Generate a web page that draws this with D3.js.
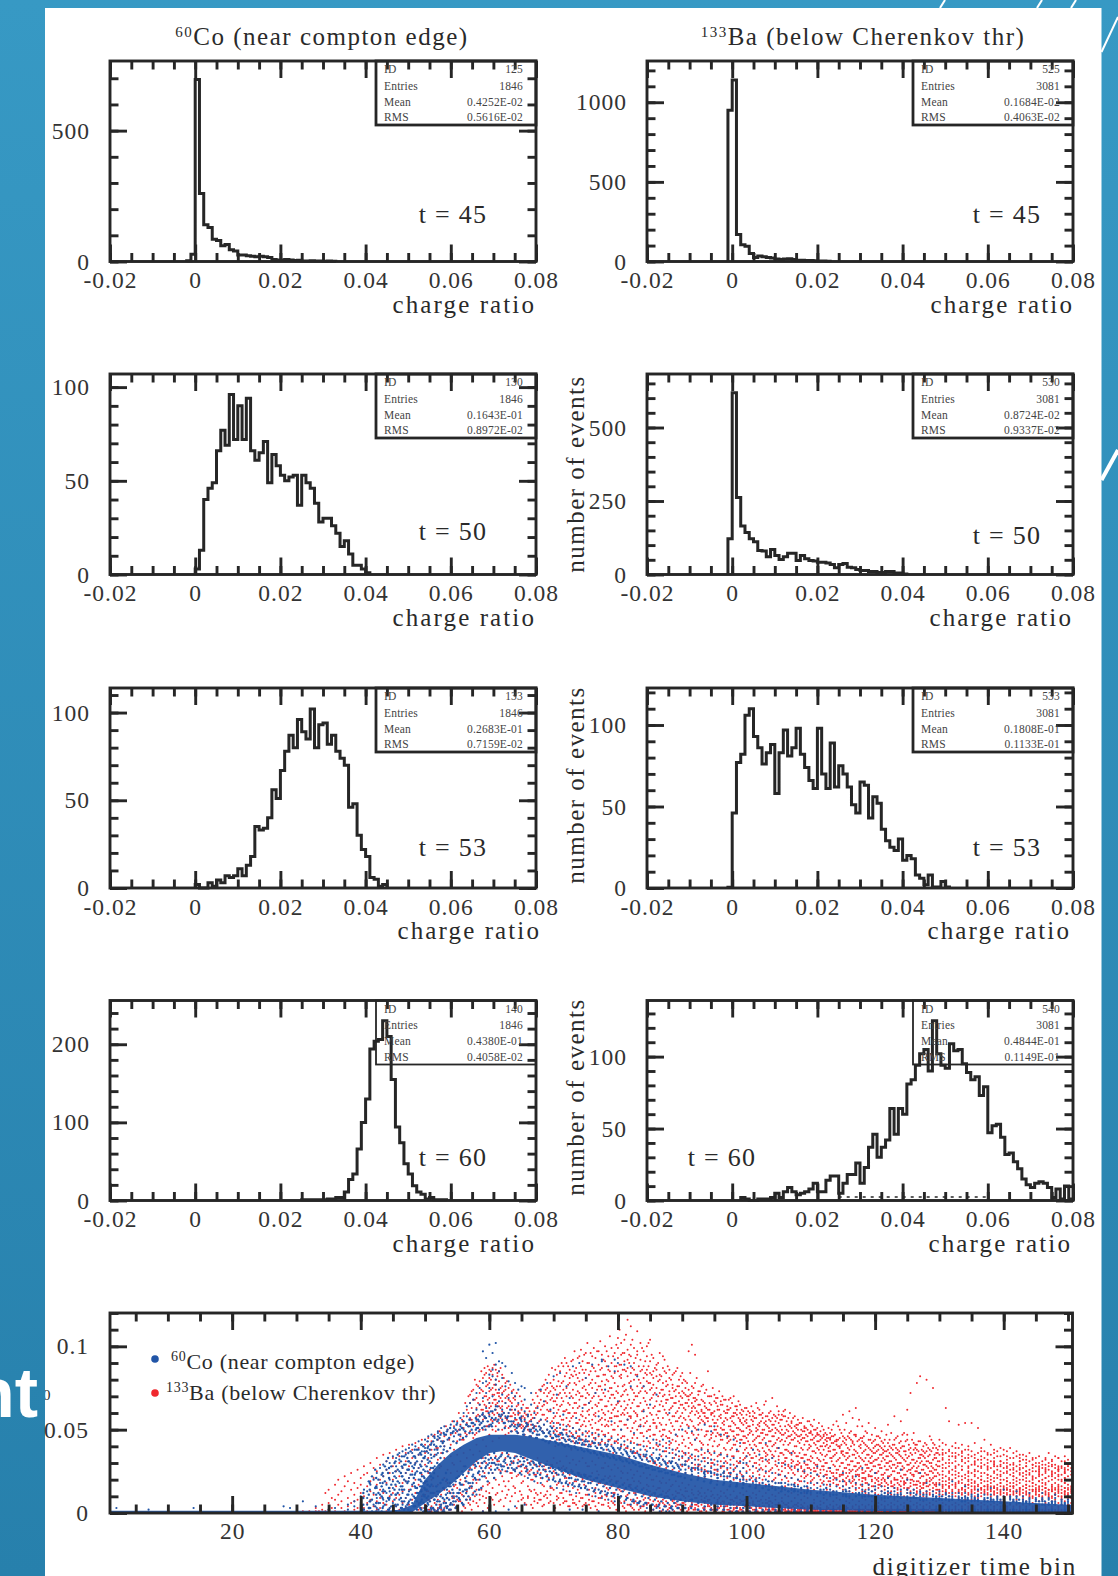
<!DOCTYPE html>
<html>
<head>
<meta charset="utf-8">
<script src="https://cdn.jsdelivr.net/npm/d3@7"></script>
<style>
html, body { margin: 0; padding: 0; background: #fff; }
svg { display: block; }
text { font-family: "Liberation Serif", serif; fill: #2a2a2a; }
</style>
</head>
<body>
<div id="chart"></div>
<script>
// histogram contents, one value per 0.001 bin, first bin starts at the matching *Start
var co45Start = -0.002
var co45 = [3,28,695,260,140,130,85,80,60,65,45,40,25,25,22,20,18,20,18,15,8,6,6,8,6,4,5,2,2,3,2,2,1,2,1]
var ba45Start = -0.001
var ba45 = [950,1140,170,105,95,50,25,35,30,25,22,15,12,15,18,12,8,8,6,6,4,3,3,2]
var co50Start = 0
var co50 = [3,13,40,46,49,66,77,69,96,72,90,72,94,66,61,65,71,49,64,58,53,50,52,53,37,53,49,46,38,28,30,30,26,22,15,18,11,5,5,3,1]
var ba50Start = -0.001
var ba50 = [122,618,262,165,143,122,111,82,80,60,85,65,51,60,72,72,48,65,54,48,46,42,42,39,34,23,34,37,25,23,17,14,14,10,10,7,7,10,10,5,5,2]
var co53Start = 0
var co53 = [2,0,0,3,1,4.5,3,7,6,7,11,7,13,18,35,33,34,40,56,51,67,78,87,80,96,89,85,102,80,93,94,82,87,78,74,70,46,48,30,22,18,6,5,1,2]
var ba53Start = -0.001
var ba53 = [0.5,46,77,82,106,110,93,86,76,83,88,58,83,97,81,86,98,82,74,66,61,98,70,61,89,62,75,70,62,51,46,65,63,43,56,52,36,29,25,23,30,17,20,18,8,6,2,8,0.6,0.6,4,0.6]
var co60Start = 0.025
var co60 = [1,1,1,1,1,1,2,2,4,4,11,27,34,66,100,130,194,204,206,230,210,155,94,74,47,34,19,11,8,2,4,1,1,1]
var ba60Start = 0.002
var ba60 = [2,1,0,0,1,1,1,2,5,2,6,9,6,4,5,6,8,12,6,6,14,17,17,5,12,18,18,26,12,23,37,46,30,37,42,64,46,64,60,81,84,94,102,105,90,125,102,94,92,109,104,105,95,89,84,86,73,79,47,52,53,44,32,33,27,22,15,11,9,12,13,12,9,2,8,1,10,1]

// stat box text
var statIds = ["125","525","130","530","133","533","140","540"]
var statEntries = ["1846","3081","1846","3081","1846","3081","1846","3081"]
var statMeans = ["0.4252E-02","0.1684E-02","0.1643E-01","0.8724E-02","0.2683E-01","0.1808E-01","0.4380E-01","0.4844E-01"]
var statRms = ["0.5616E-02","0.4063E-02","0.8972E-02","0.9337E-02","0.7159E-02","0.1133E-01","0.4058E-02","0.1149E-01"]
var timeLabels = ["t = 45","t = 45","t = 50","t = 50","t = 53","t = 53","t = 60","t = 60"]

// y axis of each panel
var yTops = [766,1259,107,682,114,122.7,256,139]
var yLabelTicks = [[0,500],[0,500,1000],[0,50,100],[0,250,500],[0,50,100],[0,50,100],[0,100,200],[0,50,100]]
var yMinorSteps = [100,100,10,50,10,10,20,10]
var xLabelTicks = [-0.02,0,0.02,0.04,0.06,0.08]

// scatter panel axes
var timeTicks = [20,40,60,80,100,120,140]
var ratioTicks = [0,0.05,0.1]

// dense blue band of the scatter panel, ratio in units of 0.001
var bandX  = [1,30,44,46,48,50,52,54,56,58,60,62,64,66,70,75,80,85,90,95,100,110,120,130,140,150,150.7]
var bandLo = [0.3,0.3,0.3,0.3,0.5,6,11,17,24,31,36,37,36,33,27,20,15,10,7,5,4,2,1.2,0.8,0.5,0.3,0.3]
var bandHi = [1.4,1.4,1.4,2,5,20,29,36,41,45,47,47,47,46,43,39,35,29,24,20,18,14,11,9,7,5,5]

// scatter points read by eye, each row is [time bin, ratio, ratio, ...], ratio in units of 0.001
var baRows = [
[31,1],[32,1],[33,3,1],[33.5,1],[34,5,2],[34.5,12,1],[35,14,6,2],[35.5,3,9],[36,17,8,1],[36.5,20,5,11],[37,13,3,7],[37.5,22,16,1],[38,19,9,4],[38.5,24,14,6],[39,18,11,2,7],[39.5,26,15,8,3],[40,21,12,5,17],[40.5,28,10,3,23],[41,24,16,6,1],[41.5,30,19,8,13],[42,27,11,4,21],[42.5,33,17,7,25,2],[43,29,14,9,3,20],[43.5,35,22,12,6],[44,31,18,5,26,1],[44.5,36,24,10,15,3],[45,33,20,7,28,12],[45.5,38,16,4,25,9],[46,34,22,11,30,2],[46.5,40,27,6,18,13],[47,36,19,9,31,3,24],[47.5,41,28,14,5,21],[48,38,25,8,33,1,16],[48.5,42,30,12,20,4],[49,39,27,6,35,17,2],[49.5,44,31,10,23,3,14],
[50,41,29,5,36,18,1,11],[50.5,45,33,8,24,2,13],[51,43,30,4,38,20,1,9],[51.5,47,35,12,26,2,6],[52,44,32,3,39,17,1,8,22],[52.5,48,36,5,28,11,2],[53,46,40,7,33,14,3,21],[53.5,50,37,9,26,4,18],[54,47,41,6,34,12,2,24],[54.5,52,38,10,29,5,16],[55,49,43,8,35,15,3,25,55],[55.5,53,39,7,31,12,20,46],[56,58,44,10,36,17,4,28,51],[56.5,62,47,13,33,8,22,54],[57,66,49,9,38,16,5,27,57,71],[57.5,74,52,12,35,20,7,29,60,45,68],[58,69,55,14,41,18,6,31,63,77,48,58],[58.5,79,58,11,37,23,8,28,65,50,72,53],[59,73,56,16,44,25,10,33,62,81,50,67,59,1],[59.5,84,61,13,40,21,9,30,70,52,76,64,57],
[60,78,66,18,47,27,12,35,59,86,53,73,69,63,81],[60.5,83,60,15,43,24,8,32,71,55,87,66,75,50],[61,80,68,20,49,29,11,34,62,86,56,74,52,77,65],[61.5,85,64,17,45,26,7,31,70,58,79,54,72],[62,76,61,22,50,28,13,36,67,83,55,72,59,64],[62.5,78,66,16,47,25,9,33,57,74,52,69],[63,71,60,19,51,27,14,35,64,55,75,48,68],[63.5,73,58,21,49,24,10,30,66,53,62],[64,68,56,15,50,26,12,34,62,53,70,59],[64.5,65,59,23,48,28,7,32,54,61],[65,62,57,18,51,25,11,29,53,8,67],[65.5,60,55,22,47,27,6,33,51,57],
[66,63,54,16,50,24,10,30,58,9,52],[66.5,59,53,20,46,26,5,31,56,13],[67,66,57,14,49,23,9,29,52,7,61],[67.5,70,60,18,47,25,11,33,54,6,64],[68,68,62,21,51,24,8,30,56,12,73],[68.5,72,59,16,48,26,5,28,65,10,53,77],[69,75,66,19,50,23,9,31,57,13,62,70],[69.5,78,61,15,46,27,7,29,68,11,54,73,43],
[70,80,71,22,52,25,6,33,63,14,57,48,75,67],[70.5,83,69,17,49,23,10,30,60,8,54,44,76,65],[71,76,85,20,47,26,5,31,58,12,72,51,64,42],[71.5,88,79,16,53,24,9,28,67,6,61,45,74,56],[72,84,75,21,48,27,7,34,62,13,70,50,57,41,90],[72.5,86,78,18,55,23,4,30,65,11,72,46,60,52,81],[73,92,82,15,51,25,8,32,69,6,74,43,58,47,63],[73.5,87,77,19,54,22,10,29,66,5,71,45,60,49,83],[74,94,84,17,50,24,7,31,72,12,64,42,56,46,79,68],[74.5,91,80,20,53,21,9,33,70,4,61,44,75,48,58,86],[75,96,86,16,52,23,6,30,74,11,65,41,57,46,81,69],[75.5,90,83,14,55,22,8,28,71,5,62,43,77,49,59,66],[76,94,88,19,51,24,10,31,75,7,63,42,56,47,80,69],[76.5,93,85,15,54,21,4,29,72,12,60,44,78,48,58,65],[77,89,82,18,50,23,9,33,70,6,66,41,76,46,61,55,97],[77.5,95,87,13,53,20,5,27,74,10,62,43,68,49,79,57],[78,100,91,17,56,22,8,30,77,11,64,42,70,47,83,59,52],[78.5,94,86,14,52,21,6,28,73,4,61,44,79,48,67,55],[79,99,90,16,57,20,10,26,75,7,65,41,71,46,82,60,53],[79.5,96,88,12,54,22,5,29,78,9,63,43,69,50,84,58],
[80,105,93,15,58,19,8,27,76,4,66,42,72,47,85,61,52,99],[80.5,102,89,13,55,21,6,25,81,10,64,40,70,45,83,59,50,95],[81,104,91,14,59,18,7,28,77,3,67,41,73,46,86,62,53,96],[81.5,116,98,11,56,20,5,24,82,9,65,39,71,44,87,60,51,92],[82,112,94,15,57,17,8,26,79,4,63,38,75,43,84,58,49,101],[82.5,99,90,12,54,19,6,23,80,2,68,36,72,42,86,61,47],[83,109,95,14,58,16,9,25,76,5,64,37,70,45,83,59,50,97],[83.5,102,92,13,53,18,3,22,78,7,66,35,73,41,85,56,48],[84,97,88,11,57,15,8,24,81,4,62,34,69,43,76,52,46],[84.5,94,86,14,55,17,5,21,79,6,65,33,72,40,83,58,49,100],[85,91,84,10,52,13,3,23,74,8,60,31,68,42,78,50,46,104],[85.5,93,85,12,56,16,7,20,77,2,63,30,71,39,81,54,47],[86,89,82,9,51,14,5,22,75,4,59,29,67,41,86,52,44],[86.5,96,80,11,54,15,3,19,72,6,61,28,65,38,83,49,43],[87,87,78,8,50,13,6,21,70,2,57,32,64,40,74,47,94],[87.5,84,76,12,53,10,4,18,68,7,60,27,66,37,79,46,42],[88,86,73,9,49,14,5,20,71,3,56,31,62,39,81,45,41],[88.5,83,75,7,52,11,2,17,69,8,58,26,64,36,77,44],[89,85,70,10,47,13,6,19,66,4,55,30,60,38,74,43,35],[89.5,80,72,8,50,12,3,16,63,5,57,25,67,34,76,41],
[90,84,69,6,46,11,2,18,65,4,54,28,60,37,73,42,33,78],[90.5,79,71,9,49,13,5,15,62,7,56,24,66,35,75,40,31],[91,74,68,7,45,10,3,17,64,2,52,27,58,36,70,39,32,97],[91.5,76,66,8,48,12,4,14,61,6,55,23,63,33,72,41,30,101],[92,78,63,5,44,9,2,16,59,3,51,26,67,34,69,38,29,95],[92.5,73,65,7,47,11,6,13,60,4,53,22,57,32,71,37,28],[93,76,61,8,42,10,1,15,56,5,50,25,62,35,68,39,27],[93.5,72,64,6,46,9,3,12,58,2,54,21,60,31,66,36,26],[94,85,62,4,41,8,5,14,55,7,49,24,57,33,70,38,30],[94.5,70,60,6,45,10,2,13,52,3,47,20,59,30,65,35,28],[95,71,58,5,43,9,1,15,54,4,50,23,61,32,67,37,26],[95.5,69,62,7,40,8,3,11,56,2,48,19,52,29,64,34,25],[96,67,59,4,44,10,5,13,51,6,46,22,57,31,65,36,27],[96.5,68,55,6,39,7,1,12,50,3,47,18,53,28,61,33,24],[97,64,60,5,42,9,2,14,48,4,45,21,56,30,62,35,26],[97.5,69,57,3,38,8,6,11,52,1,44,17,50,27,63,32,23],[98,70,54,5,41,7,2,13,49,3,46,20,58,29,60,34,25],[98.5,62,59,4,37,9,1,10,47,6,43,16,51,28,64,31,22],[99,65,55,6,40,8,3,12,50,2,44,19,56,30,60,33,24],[99.5,61,53,3,36,7,5,11,46,1,42,18,49,27,57,32,21],
[100,63,56,5,39,8,2,13,51,4,45,20,54,29,59,34,25],[100.5,60,52,4,35,6,1,10,48,3,41,17,50,26,58,31,22],[101,58,55,6,38,7,2,12,47,5,43,19,53,28,61,33,24],[101.5,66,51,3,34,9,1,11,45,2,40,16,49,27,57,30,21],[102,62,54,5,37,7,4,13,46,3,42,18,52,29,59,32,23],[102.5,57,50,4,33,6,2,10,44,1,39,15,48,26,60,31,20],[103,67,55,6,36,8,3,12,47,2,41,17,53,28,58,34,24],[103.5,60,49,3,32,7,1,9,43,5,38,14,51,25,56,30,22],[104,69,53,4,35,6,2,11,46,3,40,16,50,27,57,33,19],[104.5,58,51,5,31,8,1,10,42,2,37,15,48,24,55,29,21],[105,61,54,3,34,6,2,12,45,4,39,18,49,26,59,32,23],[105.5,59,50,4,30,7,1,9,44,2,36,14,47,25,56,28,20],[106,62,52,2,33,5,3,11,43,1,38,16,48,27,58,31,22],[106.5,57,49,4,29,6,1,10,41,2,37,13,46,24,53,28,19],[107,55,51,3,32,7,2,12,44,1,35,15,47,26,54,30,21],[107.5,58,48,2,28,5,1,9,40,3,36,13,45,23,52,27,18],[108,56,50,4,31,6,2,11,43,1,34,17,46,25,53,29,20],[108.5,54,47,3,27,5,1,8,39,2,33,14,44,22,50,28,19],[109,52,49,2,30,6,1,10,41,3,35,12,45,24,51,26,21],[109.5,55,46,3,29,4,1,9,38,2,32,15,43,23,50,27,18],
[110,53,48,2,31,5,1,11,40,1,34,13,44,22,49,26,19],[110.5,56,45,3,27,6,2,8,37,1,30,14,42,21,50,25,17],[111,51,47,2,29,4,1,10,39,3,33,12,43,23,48,27,18],[111.5,49,44,3,26,5,1,7,36,2,31,13,40,20,46,24,16],[112,50,46,2,28,6,1,9,38,1,32,11,42,22,47,26,19],[112.5,47,43,3,25,4,2,8,35,1,30,14,41,21,45,23,17],[113,48,45,2,27,5,1,10,37,1,33,12,40,19,44,25,16],[113.5,53,42,3,24,4,1,7,34,2,29,13,38,20,46,22,18],[114,55,44,2,26,5,1,9,36,1,31,11,41,21,43,24,17],[114.5,50,40,3,23,4,2,8,33,1,28,12,39,19,45,22,15],[115,59,43,2,25,5,1,10,35,1,30,14,37,20,46,23,16],[115.5,54,41,3,24,4,1,7,32,2,27,11,36,18,44,21,17],[116,61,45,2,26,6,1,9,34,1,29,13,38,20,48,24,15],[116.5,57,42,3,22,4,1,8,31,1,26,12,35,19,43,21,16],[117,63,46,2,25,5,2,10,33,1,28,14,37,18,47,23,17],[117.5,56,40,3,23,4,1,7,30,1,27,11,34,20,44,22,15],[118,52,43,2,24,5,1,9,32,2,26,13,36,19,45,21,16],[118.5,49,41,3,21,4,1,8,29,1,25,12,33,18,38,20,14],[119,54,39,2,23,5,1,10,31,1,27,11,35,17,44,22,15],[119.5,47,42,3,22,4,1,7,30,2,26,13,34,19,37,20,16],
[120,51,44,2,24,5,1,9,32,1,28,12,36,18,40,21,14],[120.5,46,38,3,21,4,1,6,29,1,25,11,33,17,41,19,15],[121,49,43,2,23,5,2,8,31,1,27,13,35,18,39,20,16],[121.5,44,40,3,20,4,1,7,28,1,24,10,32,16,37,19,14],[122,53,42,2,22,5,1,9,30,1,26,12,34,17,38,21,15],[122.5,48,39,3,19,4,1,6,27,2,23,11,31,16,35,18,13],[123,58,41,2,21,5,1,8,29,1,25,10,33,17,44,20,15],[123.5,46,38,3,20,4,1,7,28,1,24,12,30,15,36,18,14],[124,55,43,2,22,5,1,9,30,1,26,11,34,16,39,19,13],[124.5,48,40,3,19,4,1,6,27,1,23,10,32,17,37,18,15],[125,62,44,2,21,5,1,8,29,2,25,12,33,15,47,20,14],[125.5,72,39,3,20,4,1,7,26,1,24,11,30,16,36,18,13],[126,48,42,2,22,5,1,9,28,1,23,10,32,17,38,19,14],[126.5,78,38,3,19,4,1,6,27,1,25,12,31,15,41,17,13],[127,82,43,2,21,5,1,8,30,1,24,11,33,16,35,18,14],[127.5,40,37,3,18,4,1,7,26,2,22,10,29,15,34,17,12],[128,80,41,2,20,5,1,9,28,1,23,12,31,16,37,19,13],[128.5,46,38,3,19,4,1,6,25,1,21,11,30,14,35,17,12],[129,75,42,2,21,5,1,8,27,1,24,10,32,15,39,18,13],[129.5,39,36,3,18,4,1,7,26,1,22,12,29,16,33,17,14],
[130,44,40,2,20,5,1,8,28,1,23,10,31,14,35,18,12],[130.5,38,35,3,17,4,2,6,25,1,21,11,29,15,33,16,13],[131,63,41,2,19,5,1,9,27,1,22,12,30,14,36,17,13],[131.5,55,37,3,18,4,1,7,24,1,20,10,28,15,32,16,12],[132,40,36,2,20,5,1,8,26,1,23,11,30,13,34,17,14],[132.5,42,34,3,17,4,1,6,25,1,21,10,27,15,31,16,12],[133,53,39,2,19,5,1,9,24,1,22,12,29,13,35,18,14],[133.5,41,36,3,18,4,1,7,26,2,20,11,28,14,32,15,12],[134,54,38,2,17,5,1,8,23,1,21,10,30,13,33,16,14],[134.5,40,35,3,19,4,1,6,25,1,22,11,27,15,31,17,12],[135,54,37,2,18,5,1,8,24,1,20,12,29,13,34,16,14],[135.5,42,33,3,16,4,1,7,23,1,19,10,26,14,30,15,12],[136,51,36,2,17,5,1,9,25,1,21,11,28,13,32,16,14],[136.5,39,34,3,18,4,1,6,22,1,20,10,27,15,30,15,12],[137,44,37,2,16,5,1,8,24,1,19,12,29,13,33,16,14],[137.5,36,32,3,17,4,1,7,23,2,21,11,26,14,28,15,12],[138,41,35,2,18,5,1,8,22,1,20,10,27,13,31,16,14],[138.5,38,33,3,15,4,1,6,24,1,19,11,29,12,30,16,13],[139,37,34,2,17,5,1,9,23,1,21,10,26,14,28,15,12],[139.5,39,31,3,16,4,1,7,22,1,18,12,25,13,29,14,11],
[140,38,35,2,15,5,1,8,24,1,20,10,27,12,30,16,14],[140.5,37,32,3,17,4,1,6,21,1,19,11,25,14,28,15,12],[141,39,33,2,16,5,1,9,23,1,18,10,26,13,29,14,11],[141.5,36,30,3,15,4,1,7,22,2,20,12,27,13,24,16,11],[142,37,34,2,17,5,1,8,21,1,19,10,25,12,28,14,13],[142.5,33,31,3,14,4,1,6,23,1,18,11,26,13,29,15,12],[143,35,32,2,16,5,1,8,22,1,20,9,24,12,27,14,10],[143.5,34,30,3,15,4,1,7,21,1,17,11,25,13,28,15,12],[144,36,31,2,14,5,1,9,23,1,19,10,26,12,24,16,11],[144.5,32,29,3,16,4,1,6,20,1,18,9,22,13,27,14,10],[145,33,30,2,15,5,1,8,21,1,17,11,25,12,28,14,13],[145.5,34,28,3,14,4,1,7,22,1,19,10,24,13,26,15,11],[146,31,29,2,16,5,1,8,20,1,18,9,23,12,27,14,10],[146.5,33,27,3,15,4,1,6,21,1,17,11,25,13,24,15,12],[147,36,30,2,14,5,1,9,22,1,19,10,26,12,28,14,11],[147.5,32,28,3,13,4,1,7,20,1,16,9,23,13,25,15,10],[148,34,29,2,15,5,1,8,21,1,18,11,24,12,27,14,11],[148.5,33,27,3,14,4,1,6,22,1,17,10,25,13,26,15,12],[149,31,28,2,16,5,1,8,20,1,19,9,23,12,27,14,10],[149.5,34,26,3,13,4,1,7,21,1,18,11,24,13,25,15,12],[150,32,29,2,15,5,1,9,22,1,17,10,26,12,28,14,11],[150.5,30,27,3,14,4,1,6,20,1,16,9,23,13,25,15,12]
]
// second pass over the red cloud, between the columns above
var baRows2 = [
[50.25,4,37,13],[50.75,26,2,41,7],[51.25,16,46,3],[51.75,39,10,1],[52.25,49,5,27],[52.75,15,43,1],[53.25,19,52,6],[53.75,44,2,13],[54.25,55,9,30],[54.75,17,48,3],[55.25,60,7,22,50],[55.75,11,56,1,44],
[56.25,66,19,48,3],[56.75,60,6,52,25,70],[57.25,73,15,56,2,63],[57.75,68,27,47,10,80],[58.25,76,4,59,20,66,51],[58.75,85,14,62,30,74],[59.25,70,6,83,24,57,65,87],[59.75,77,17,61,3,68,88,52],[60.25,74,28,64,9,85,56,80],[60.75,68,21,89,5,77,59,71],[61.25,82,12,60,31,72,66,84],[61.75,75,25,57,8,69,87,63],[62.25,81,19,73,4,60,54],[62.75,70,29,63,11,79,56],[63.25,77,7,58,24,67,52],[63.75,69,16,54,31,60,74],[64.25,64,3,72,22,56],[64.75,70,13,52,28,60],[65.25,58,9,65,19,52],[65.75,63,27,54,5,59],[66.25,61,14,49,25,55],[66.75,68,3,57,20,51],[67.25,63,23,59,12,72,52],[67.75,74,8,55,28,66],[68.25,59,17,76,4,64,49],[68.75,67,26,56,11,74,80],[69.25,83,6,61,21,72,48],[69.75,69,15,55,29,76,87,45],
[70.25,74,3,58,24,67,50,86,40],[70.75,62,18,79,9,71,47,54,88],[71.25,56,12,90,27,65,45,78,69],[71.75,82,7,61,21,93,50,72,40],[72.25,66,16,53,4,77,44,88,60],[72.75,91,26,70,11,48,57,83,38],[73.25,78,6,97,19,60,42,66,85],[73.75,54,14,73,3,93,46,81,63],[74.25,88,23,59,9,70,39,52,98],[74.75,76,5,65,17,84,43,55,95],[75.25,61,28,102,11,72,48,90,38],[75.75,85,3,53,20,78,41,96,67],[76.25,70,13,59,7,99,45,87,36],[76.75,97,25,64,2,82,50,74,39],[77.25,56,9,86,18,68,42,103,76],[77.75,72,5,60,27,92,47,83,35],[78.25,64,15,97,10,80,38,53,88],[78.75,106,3,69,22,57,44,85,75],[79.25,81,12,62,6,94,36,50,71],[79.75,73,19,101,2,58,43,88,65],
[80.25,89,7,67,14,82,34,55,110],[80.75,60,24,96,4,76,46,71,86],[81.25,107,10,63,1,85,39,53,74],[81.75,78,17,90,5,58,33,68,95],[82.25,66,3,104,21,74,45,51,87],[82.75,93,12,60,7,83,36,70,55],[83.25,72,19,88,2,52,41,64,80],[83.75,99,4,75,14,61,32,48,86],[84.25,84,9,67,1,91,38,54,73],[84.75,63,16,78,6,102,43,50,88],[85.25,75,2,59,20,83,35,69,95],[85.75,87,11,64,4,72,31,47,54],[86.25,70,7,90,15,57,40,79,61],[86.75,82,1,53,18,67,34,46,74],[87.25,62,10,85,5,71,37,50,92],[87.75,77,13,59,2,88,30,45,68],[88.25,69,4,80,16,54,42,63,48],[88.75,84,8,58,1,73,33,50,66],[89.25,76,12,61,5,87,39,46,55],[89.75,65,2,82,14,70,29,52,58],
[90.25,72,6,57,10,80,36,44,63],[90.75,78,1,66,13,53,31,48,70],[91.25,60,8,84,4,71,34,42,56],[91.75,69,11,52,2,75,27,47,64],[92.25,81,5,61,9,68,38,45,50],[92.75,58,1,73,12,65,29,54,43],[93.25,67,7,55,3,77,33,41,60],[93.75,74,10,49,1,63,25,47,57],[94.25,62,4,70,8,52,36,44,66],[94.75,56,2,75,11,60,30,40,48],[95.25,66,6,50,1,69,26,46,54],[95.75,73,9,58,3,47,35,41,62],[96.25,54,1,65,7,70,28,44,50],[96.75,60,4,48,10,57,31,38,68],[97.25,68,2,52,6,62,24,43,46],[97.75,58,8,66,1,49,34,39,55],[98.25,64,3,45,9,53,27,41,60],[98.75,51,1,67,5,57,30,37,47],[99.25,59,7,49,2,62,23,44,54],[99.75,63,4,55,8,46,33,38,42],
[100.25,52,1,61,6,47,28,36,43],[100.75,64,3,49,9,56,21,39,33],[101.25,57,2,44,5,60,30,41,36],[101.75,50,7,63,1,46,25,53,38],[102.25,59,3,48,8,42,33,55,27],[102.75,65,1,54,4,45,22,37,50],[103.25,47,6,58,2,40,31,52,35],[103.75,61,1,43,7,55,26,37,49],[104.25,53,3,46,2,59,20,41,34],[104.75,64,5,39,1,50,28,57,44],[105.25,48,1,56,4,43,23,36,52],[105.75,58,2,41,6,61,30,35,47],[106.25,45,5,55,1,38,21,50,33],[106.75,60,1,42,3,52,27,46,36],[107.25,49,4,57,2,37,24,44,31],[107.75,53,1,40,5,47,29,34,51],[108.25,46,2,54,1,36,19,42,30],[108.75,57,4,38,3,49,25,33,45],[109.25,43,1,51,2,35,22,47,29],[109.75,48,3,55,1,39,27,32,41],
[110.25,52,1,37,4,44,20,33,47],[110.75,41,2,50,1,36,25,29,46],[111.25,47,3,54,1,38,22,32,43],[111.75,52,1,35,2,45,18,28,40],[112.25,40,2,48,1,34,23,30,44],[112.75,45,3,51,1,37,19,27,39],[113.25,50,1,33,2,42,24,31,46],[113.75,38,2,47,1,35,21,28,43],[114.25,44,1,52,3,32,17,26,40],[114.75,48,2,36,1,41,23,30,37],[115.25,42,1,50,2,34,19,27,45],[115.75,46,3,33,1,39,22,29,36],[116.25,40,1,44,2,31,18,25,49],[116.75,47,2,35,1,38,20,28,41],[117.25,43,1,52,2,30,23,26,36],[117.75,39,2,45,1,33,17,28,41],[118.25,46,1,31,2,37,21,24,42],[118.75,40,1,48,2,29,18,27,35],[119.25,44,2,33,1,38,22,25,30],[119.75,36,1,43,2,28,16,31,39],
[120.25,41,1,46,2,32,20,24,37],[120.75,45,2,35,1,29,17,27,40],[121.25,38,1,42,2,33,21,23,36],[121.75,47,1,30,2,37,18,26,34],[122.25,36,2,44,1,28,22,31,40],[122.75,41,1,34,2,38,16,25,29],[123.25,45,1,32,2,27,20,36,39],[123.75,35,2,42,1,30,17,24,37],[124.25,40,1,47,2,28,21,33,26],[124.75,37,1,31,2,43,18,23,35],[125.25,41,2,29,1,34,15,26,38],[125.75,35,1,44,2,27,20,32,23],[126.25,39,1,30,2,36,17,25,41],[126.75,33,2,43,1,28,19,24,37],[127.25,38,1,31,2,26,15,35,22],[127.75,42,1,29,2,33,18,24,36],[128.25,34,2,39,1,27,16,31,23],[128.75,37,1,30,2,44,20,25,28],[129.25,41,1,33,2,26,17,35,22],[129.75,31,2,38,1,28,14,24,36],
[130.5,36,1,42,2,27,19,32,23],[131.5,38,1,30,2,25,16,34,21],[132.5,33,2,39,1,28,18,23,36],[133.5,31,1,37,2,26,15,34,22],[134.5,38,1,28,2,33,17,24,20],[135.5,35,2,29,1,25,18,31,22],[136.5,32,1,37,2,24,14,28,20],[137.5,35,1,27,2,30,16,23,19],[138.5,31,2,36,1,25,15,28,21],[139.5,34,1,28,2,23,18,31,20],[140.5,30,1,34,2,24,14,27,19],[141.5,33,2,26,1,29,16,22,18],[142.5,31,1,35,2,24,15,27,20],[143.5,28,1,32,2,23,17,25,19],[144.5,33,2,25,1,29,14,21,18],[145.5,30,1,27,2,23,16,25,19],[146.5,32,1,26,2,29,15,21,18],[147.5,29,2,24,1,31,14,22,17],[148.5,33,1,26,2,23,16,28,20],[149.5,27,1,31,2,24,15,21,18]
]
var coRows = [
[2,3],[7,2],[14,3],[28,4],[29,3],[31,7],[33,4],[35,2],[36,3],[38,5,2],[39,4,7],[40,10,6,3],[40.5,14,2],[41,9,5,13],[41.5,17,7,3],[42,12,20,5],[42.5,24,9,15,3],[43,18,11,27,6],[43.5,22,14,29,4,8],[44,26,17,12,31,7],[44.5,30,20,9,13,3],[45,24,34,15,6,19],[45.5,28,21,33,11,4],[46,32,18,25,8,14,36],[46.5,27,37,22,12,5,16],[47,35,29,19,9,24,38,4],[47.5,31,39,26,13,7,21],[48,36,28,17,41,6,23,11],[48.5,33,40,24,15,9,30],[49,43,35,27,12,20,5,38],[49.5,41,31,22,16,8,37],[50,44,34,25,1,14,39,19],[50.5,40,30,46,5,10,36],[51,42,33,47,2,17],[51.5,45,28,38,1,8],[52,46,36,48,2,11,49],[52.5,43,51,3,5],[53,47,40,52,1,8],[53.5,50,44,4,12],[54,48,53,2,16,6],[54.5,51,46,55,9],[55,49,54,3,12,21],[55.5,52,47,57,17],[56,50,55,60,5,10],[56.5,53,58,64,14],[57,52,56,66,18,8],[57.5,54,60,68,23],[58,56,51,62,72,11],[58.5,58,53,65,75,20],[59,55,60,69,78,97,25,1],[59.5,57,63,72,79,93,28],[60,58,52,66,75,83,101,30,2],[60.5,54,61,70,82,96,86,24],[61,57,64,77,80,102,89,29,1],[61.5,59,67,74,85,91,33],[62,56,62,71,81,90,26],[62.5,58,66,76,88,30],[63,55,60,69,79,2],[63.5,53,64,72,84,27],[64,57,62,70,25,4,78],[64.5,52,60,66,74],[65,55,58,63,23,76],[65.5,51,56,61,5,68,75],[66,53,59,21,58],[66.5,50,55,65,72],[67,52,57,19,60],[67.5,49,54,63,24],[68,51,56,74,18],[68.5,48,53,67],[69,50,55,22,78],[69.5,47,52,62,16],
[70,49,54,60,21,82],[70.5,46,51,71,15],[71,48,53,84,20],[71.5,45,50,59,14],[72,47,52,76,19],[72.5,44,49,69,2,13],[73,46,51,88,18],[73.5,43,48,57,12],[74,45,50,90,17],[74.5,42,47,63,2],[75,44,49,81,16],[75.5,41,46,66,11],[76,43,48,89,15],[76.5,40,45,72,10],[77,42,47,58,14,1],[77.5,39,44,91,9,92],[78,41,46,74,13],[78.5,38,43,88,8],[79,40,45,55,12],[79.5,37,42,85,92,7],[80,39,44,67,11,90],[80.5,36,41,50,10],[81,38,43,89,6],[81.5,35,40,56,9],[82,37,42,76,88,5],[82.5,34,39,48,7],[83,36,41,82,6],[83.5,33,38,52,4],[84,35,40,76,5,61],[84.5,32,37,45,3],[85,34,39,65,4],[85.5,31,36,44,2],[86,33,38,42,3,71],[86.5,30,35,41,1],[87,32,37,44,2],[87.5,29,34,39,1],[88,31,36,43,1,60],[88.5,28,33,38,2],[89,30,35,47],[89.5,27,32,37],
[90,29,34,50,1],[90.5,26,31,36],[91,28,33,51],[91.5,25,30,35,49],[92,27,32,44],[92.5,24,29,34,50],[93,26,31,38],[93.5,23,28,33,53],[94,25,30,37],[94.5,22,27,32,49],[95,24,29,52,36],[95.5,21,26,31],[96,23,28,35,47],[96.5,20,25,30],[97,22,27,34,46],[97.5,19,24,29],[98,21,26,33,44],[98.5,18,23,28,38],[99,20,25,31,42],[99.5,17,22,27,30],
[100,19,24,30,34],[101,18,22,28,38],[102,17,21,26,35],[103,16,20,25,32,42],[104,15,19,24,33],[105,15,18,23,30,39],[106,14,18,22,29],[107,14,17,21,28,36],[108,13,16,20,26],[109,13,16,19,25,31],[110,12,15,18,24],[111,12,15,18,23,28],[112,11,14,17,22],[113,11,14,17,21,27],[114,11,13,16,20],[115,11,13,16,19,24],[116,10,13,15,19],[117,10,12,15,18,22],[118,10,12,14,17,27],[119,10,12,14,17],[120,10,11,14,16,24],[121,9,11,13,16],[122,9,11,13,15,21],[123,9,11,13,15],[124,9,11,12,14,26],[125,9,10,12,14,20],[126,9,10,12,14],[127,8,10,12,13,24],[128,8,10,11,13,18],[129,8,10,11,13],[130,8,9,11,13,17],[131,8,9,11,12],[132,8,9,10,12,19],[133,8,9,10,12],[134,7,9,10,12,16],[135,7,9,10,11],[136,7,8,10,11,14],[137,7,8,9,11],[138,7,8,9,11,15],[139,7,8,9,10],[140,6,8,9,10,14],[141,6,8,9,10],[142,6,7,9,10,13],[143,6,7,8,10],[144,6,7,8,9,12],[145,5,7,8,9],[146,5,7,8,9,12],[147,5,6,8,9],[148,5,6,7,9,11],[149,5,6,7,8],[150,4,6,7,8,10]
]
// fringe of the blue band, between the columns above
var coRows2 = [
[41.25,3,11,19],[41.75,8,22,1],[42.25,15,4,26],[42.75,6,20,12,2],[43.25,23,1,10,16],[43.75,28,5,13,19],[44.25,9,24,2,33],[44.75,17,4,28,11],[45.25,30,8,1,22,14],[45.75,12,35,5,19,26],[46.25,3,24,16,31,9],[46.75,29,7,20,2,34,14],[47.25,18,33,5,11,26],[47.75,37,1,14,23,8,30],[48.25,10,27,4,34,18,21],[48.75,2,15,38,7,25,31,12],[49.25,29,6,20,36,3,16,24],[49.75,40,11,26,1,33,18,6,22],[50.25,4,28,14,37,2,9,19],[50.75,38,24,1,7,31,16],[51.25,3,27,43,12,21],[51.75,5,35,1,10,40,16],[52.25,7,29,45,3,13],[52.75,1,42,9,36,20],[53.25,11,47,4,24,6],[53.75,2,45,16,8],[54.25,14,48,5,10],[54.75,19,50,7,3],[55.25,12,47,22,9],[55.75,17,51,25,6],[56.25,21,49,14,28],[56.75,24,52,10,18],[57.25,26,50,16,54],[57.75,21,53,29,13],[58.25,30,51,24,56],[58.75,27,54,33,15],[59.25,31,52,22,58],[59.75,35,55,29,19],[60.25,33,53,26,61],[60.75,36,56,21,30],[61.25,32,55,27,64],[61.75,34,58,24,29],[62.25,31,54,28,60],[62.75,36,57,25],[63.25,33,52,29,62],[63.75,30,55,26],
[64.25,34,51,27,49],[64.75,31,53,24,57],[65.25,33,49,29,47],[65.75,28,52,25,54],[66.25,30,50,23,46],[66.75,27,48,31,53],[67.25,29,45,22,50],[67.75,26,47,30,52],[68.25,28,44,21,49],[68.75,25,46,29,43],[69.25,27,48,20,42],[69.75,24,45,28,51],[70.25,26,43,19,47],[70.75,23,46,27,41],[71.25,25,42,18,48],[71.75,22,44,26,40],[72.25,24,41,17,46],[72.75,21,43,25,39],[73.25,23,40,16,45],[73.75,20,42,24,38],[74.25,22,39,15,44],[74.75,19,41,23,37],[75.25,21,38,14,43],[75.75,18,40,22,36],[76.25,20,37,13,42],[76.75,17,39,21,35],[77.25,19,36,12,41],[77.75,16,38,20,34],[78.25,18,35,11,40],[78.75,15,37,19,33],[79.25,17,34,10,39],[79.75,14,36,18,32],
[80.25,16,33,9,38],[80.75,13,35,17,31],[81.25,15,32,8,37],[81.75,12,34,16,30],[82.25,14,31,7,36],[82.75,11,33,15,29],[83.25,13,30,6,35],[83.75,10,32,14,28],[84.25,12,29,6,34],[84.75,9,31,13,27],[85.25,11,28,5,33],[85.75,8,30,12,26],[86.25,10,27,4,32],[86.75,7,29,11,25],[87.25,9,26,4,31],[87.75,6,28,10,24],[88.25,8,25,3,30],[88.75,6,27,9,23],[89.25,7,24,3,29],[89.75,5,26,8,22],
[90.5,7,24,3,29],[91.5,5,23,8,27],[92.5,6,21,2,26],[93.5,4,22,7,25],[94.5,5,19,2,24],[95.5,4,21,6,23],[96.5,4,18,2,22],[97.5,3,19,5,24],[98.5,3,17,1,21],[99.5,3,18,5,20],[100.5,3,16,1,20],[101.5,2,17,4,19],[102.5,2,15,1,18],[103.5,2,16,4,17],[104.5,2,14,1,18],[105.5,2,15,3,16],[106.5,1,13,3,17],[107.5,1,14,2,16],[108.5,1,12,3,15],[109.5,1,13,2,14],
[111.5,1,12,2,14],[113.5,1,11,2,13],[115.5,1,10,2,13],[117.5,1,11,2,12],[119.5,1,10,2,13],[121.5,1,9,2,12],[123.5,1,10,2,11],[125.5,1,9,2,12],[127.5,1,8,2,11],[129.5,1,9,2,10],[131.5,1,8,2,10],[133.5,1,7,2,9],[135.5,1,8,2,9],[137.5,1,7,2,9],[139.5,1,6,2,8],[141.5,1,7,2,8],[143.5,1,6,2,7],[145.5,1,5,2,7],[147.5,1,6,2,7],[149.5,1,5,2,6]
]
// thick part of the rising edge and the band rim
var coRows3 = [
[40.4,5,12,2,9],[41.4,14,3,7,18],[42.4,21,6,11,1,16],[43.4,9,24,3,18,13],[44.4,27,2,15,8,21],[45.4,11,31,5,17,25,1],[46.4,34,14,7,22,28,3],[47.4,6,19,36,11,26,31,2],[48.4,16,38,4,23,29,9,34],[49.4,41,13,2,28,19,35,7,24],[49.9,10,33,21,3,37,15],[50.4,1,25,39,6,32,43,17],[50.9,3,35,12,27,41,22],[51.4,2,8,41,34,24,46],[51.9,44,1,13,38,7,30],[52.4,4,47,10,33,40,18],[52.9,6,43,15,38,2,48],[53.4,9,49,3,37,14,20],[53.9,51,12,39,5,18],[54.4,7,49,17,43,12],[54.9,53,10,21,42,4],[55.4,14,50,18,44,8],[55.9,55,23,13,45,5],[56.4,19,53,12,46,8],[56.9,26,56,15,48],[57.4,22,54,11,48,18],[57.9,28,57,20,50],[58.4,25,55,14,49],[58.9,30,59,22,51],[59.4,27,57,33,50],[59.9,32,60,24,52],
[60.4,30,57,52],[60.9,33,62,26],[61.4,29,56,50],[61.9,35,59,28],[62.4,32,54,51],[62.9,27,58,34],[63.4,31,55,49],[63.9,26,52,33],[64.4,30,53,48],[64.9,28,56,34],[65.4,31,50,47],[65.9,26,53,32],[66.4,29,49,46],[66.9,24,51,30],[67.4,28,47,45],[67.9,23,50,29],[68.4,26,48,44],[68.9,22,46,29],[69.4,25,49,43],[69.9,20,45,27],[70.4,24,46,42],[70.9,19,44,26],[71.4,23,47,41],[71.9,18,43,25],[72.4,21,44,40],[72.9,17,46,24],[73.4,20,42,39],[73.9,16,44,23],[74.4,19,41,38],[74.9,15,43,22],[75.4,18,40,37],[76.4,14,42,36],[77.4,13,39,35],[78.4,12,41,34],[79.4,11,38,33],[80.4,10,39,32],[81.4,9,36,31],[82.4,8,37,30],[83.4,7,34,28],[84.4,6,35,27],[85.4,5,32,26],[86.4,5,33,25],[87.4,4,30,24],[88.4,4,31,23],[89.4,3,28,22],[90.4,3,29,21],[91.4,3,26,20],[92.4,2,27,20],[93.4,2,24,19],[94.4,2,25,18],[95.4,2,23,17],[96.4,2,24,17],[97.4,1,22,16],[98.4,1,21,16],[99.4,1,22,15],[101.4,1,20,15],[103.4,1,19,14],[105.4,1,18,13],[107.4,1,17,13],[109.4,1,16,12],[112.4,1,15,12],[115.4,1,14,11],[118.4,1,13,10],[122.4,1,12,10],[126.4,1,11,9],[130.4,1,10,8],[134.4,1,9,8],[138.4,1,8,7],[142.4,1,8,6],[146.4,1,7,5]
]

var binWidth = 0.001
var panelData = [co45,ba45,co50,ba50,co53,ba53,co60,ba60]
var panelStarts = [co45Start,ba45Start,co50Start,ba50Start,co53Start,ba53Start,co60Start,ba60Start]

var width = 1118, height = 1576
var leftCol = {x0: 110, x1: 536}, rightCol = {x0: 647, x1: 1073}
var rows = [{y0: 61, y1: 261.5},{y0: 374, y1: 574.5},{y0: 688, y1: 888},{y0: 1000.5, y1: 1200.5}]
// t = label anchors
var tPos = [[453,223],[1007,223],[453,540],[1007,544],[453,856],[1007,856],[453,1166],[722,1166]]
// charge ratio label shift, the labels are not all flush with the frame
var titleShift = [0,1,0,0,5,-2,0,-1]
// number of events label centers, rows 2 to 4
var yTitleY = [0,474,785,1097]
var ink = "#262626"

var svg = d3.select("#chart").append("svg").attr("width", width).attr("height", height)

// slide background
var defs = svg.append("defs")
var grad = defs.append("linearGradient").attr("id", "bg").attr("x1", 0).attr("y1", 0).attr("x2", 0).attr("y2", 1)
grad.append("stop").attr("offset", "0%").attr("stop-color", "#3799c4")
grad.append("stop").attr("offset", "100%").attr("stop-color", "#2780ac")
svg.append("rect").attr("width", width).attr("height", height).attr("fill", "url(#bg)")
svg.append("rect").attr("x", 45).attr("y", 8).attr("width", 1056.5).attr("height", height - 8).attr("fill", "#fff")

var slashes = [[940,8,945,0,2],[1037,8,1042,0,2],[1071,8,1076,0,2],[1101.5,52,1118,17,2],[1101.5,480,1118,450,4]]
svg.selectAll("line.slash").data(slashes).enter().append("line").attr("class", "slash")
	.attr("x1", d=>d[0]).attr("y1", d=>d[1]).attr("x2", d=>d[2]).attr("y2", d=>d[3])
	.attr("stroke", "#fff").attr("stroke-width", d=>d[4])

// clipped slide title behind the figure
defs.append("clipPath").attr("id", "stripClip").append("rect").attr("width", 45).attr("height", height)
defs.append("clipPath").attr("id", "chipClip").append("rect").attr("x", 45).attr("width", 6).attr("height", height)
svg.append("text").attr("x", 38).attr("y", 1417).attr("text-anchor", "end").attr("clip-path", "url(#stripClip)")
	.style("font-family", "'Liberation Sans'").style("font-weight", "bold").style("font-size", "70px").style("fill", "#fff").text("nt")
svg.append("text").attr("x", 43).attr("y", 1400).attr("clip-path", "url(#chipClip)").style("font-size", "15px").text("0")

function styleAxis(g){
	g.select(".domain").remove()
	g.selectAll("line").attr("stroke", ink).attr("stroke-width", 2.9)
	return g
}

// inward ticks on one side of a frame
function insideTicks(g, side, scale, values, len){
	var axis = side(scale).tickValues(values).tickSize(-len).tickFormat("")
	g.call(axis).call(styleAxis)
}

function drawFrame(g, x, y, xMinor, xMajor, yMinor, yMajor, majorLen, minorLen){
	var x0 = x.range()[0], x1 = x.range()[1], y0 = y.range()[1], y1 = y.range()[0]
	var bottom = g.append("g").attr("transform", "translate(0," + y1 + ")")
	insideTicks(bottom.append("g"), d3.axisBottom, x, xMinor, minorLen)
	insideTicks(bottom.append("g"), d3.axisBottom, x, xMajor, majorLen)
	var top = g.append("g").attr("transform", "translate(0," + y0 + ")")
	insideTicks(top.append("g"), d3.axisTop, x, xMinor, minorLen)
	insideTicks(top.append("g"), d3.axisTop, x, xMajor, majorLen)
	var left = g.append("g").attr("transform", "translate(" + x0 + ",0)")
	insideTicks(left.append("g"), d3.axisLeft, y, yMinor, minorLen)
	insideTicks(left.append("g"), d3.axisLeft, y, yMajor, majorLen)
	var right = g.append("g").attr("transform", "translate(" + x1 + ",0)")
	insideTicks(right.append("g"), d3.axisRight, y, yMinor, minorLen)
	insideTicks(right.append("g"), d3.axisRight, y, yMajor, majorLen)
	g.append("rect").attr("x", x0).attr("y", y0).attr("width", x1 - x0).attr("height", y1 - y0)
		.attr("fill", "none").attr("stroke", ink).attr("stroke-width", 2.9)
}

function labelAxis(g, axis){
	g.call(axis)
	g.select(".domain").remove()
	g.selectAll("line").remove()
	g.selectAll("text").style("font-family", "'Liberation Serif'").style("font-size", "23.5px")
		.style("letter-spacing", "1px").style("fill", "#333")
}

function plainNumber(d){ return String(+d.toFixed(2)) }

function drawPanel(i){
	var col = i % 2 == 0 ? leftCol : rightCol
	var row = rows[Math.floor(i / 2)]
	var g = svg.append("g")
	var x = d3.scaleLinear().domain([-0.02, 0.08]).range([col.x0, col.x1])
	var y = d3.scaleLinear().domain([0, yTops[i]]).range([row.y1, row.y0])

	var xMinor = d3.range(-0.02, 0.0801, 0.005)
	var yMinor = d3.range(0, yTops[i], yMinorSteps[i])
	drawFrame(g, x, y, xMinor, xLabelTicks, yMinor, yLabelTicks[i], 17, 8.5)

	// step histogram
	var vals = panelData[i], start = panelStarts[i]
	var pts = [[start, 0]]
	vals.forEach(function(v, k){ pts.push([start + k * binWidth, v]) })
	pts.push([start + vals.length * binWidth, 0])
	var stepLine = d3.line().x(d=>x(d[0])).y(d=>y(d[1])).curve(d3.curveStepAfter)
	g.append("path").attr("d", stepLine(pts)).attr("fill", "none").attr("stroke", ink).attr("stroke-width", 3)

	// stat box
	var box = {x: col.x1 - 160, y: row.y0, w: 160, h: 64}
	g.append("rect").attr("x", box.x).attr("y", box.y).attr("width", box.w).attr("height", box.h)
		.attr("fill", "none").attr("stroke", ink).attr("stroke-width", i >= 6 ? 1.8 : 2.8)
	var names = ["ID","Entries","Mean","RMS"]
	var values = [statIds[i], statEntries[i], statMeans[i], statRms[i]]
	var rowY = [12, 28.5, 44.5, 60]
	names.forEach(function(n, k){
		g.append("text").attr("x", box.x + 8).attr("y", box.y + rowY[k])
			.style("font-size", "11.5px").style("letter-spacing", "0.2px").style("fill", "#444").text(n)
		g.append("text").attr("x", box.x + 147).attr("y", box.y + rowY[k]).attr("text-anchor", "end")
			.style("font-size", "11.5px").style("letter-spacing", "0.2px").style("fill", "#444").text(values[k])
	})

	// tick labels
	var xAxis = d3.axisBottom(x).tickValues(xLabelTicks).tickSize(0).tickPadding(10).tickFormat(plainNumber)
	labelAxis(g.append("g").attr("transform", "translate(0," + row.y1 + ")"), xAxis)
	var yAxis = d3.axisLeft(y).tickValues(yLabelTicks[i]).tickSize(0).tickPadding(20).tickFormat(plainNumber)
	labelAxis(g.append("g").attr("transform", "translate(" + col.x0 + ",0)"), yAxis)

	g.append("text").attr("x", col.x1 + titleShift[i]).attr("y", row.y1 + 51).attr("text-anchor", "end")
		.style("font-size", "25px").style("letter-spacing", "2.1px").text("charge ratio")
	g.append("text").attr("x", tPos[i][0]).attr("y", tPos[i][1]).attr("text-anchor", "middle")
		.style("font-size", "26px").style("letter-spacing", "1.3px").text(timeLabels[i])

	if (i % 2 == 1 && i > 1){
		g.append("text").attr("transform", "translate(584," + yTitleY[Math.floor(i / 2)] + ") rotate(-90)")
			.attr("text-anchor", "middle").style("font-size", "25px").style("letter-spacing", "1.5px").text("number of events")
	}
}

d3.range(8).forEach(drawPanel)

// faint dotted run just above the baseline of the last panel
var dotX = d3.scaleLinear().domain([-0.02, 0.08]).range([rightCol.x0, rightCol.x1])
svg.append("line").attr("x1", dotX(0.025)).attr("x2", dotX(0.06)).attr("y1", 1197).attr("y2", 1197)
	.attr("stroke", ink).attr("stroke-width", 1.6).attr("stroke-dasharray", "3,5")

// column titles
function isotopeText(sel, mass, rest, supSize){
	sel.append("tspan").attr("dy", -8).style("font-size", supSize).text(mass)
	sel.append("tspan").attr("dy", 8).text(rest)
}
isotopeText(svg.append("text").attr("x", 322).attr("y", 45).attr("text-anchor", "middle")
	.style("font-size", "25px").style("letter-spacing", "1.5px"), "60", "Co (near compton edge)", "15px")
isotopeText(svg.append("text").attr("x", 863).attr("y", 45).attr("text-anchor", "middle")
	.style("font-size", "25px").style("letter-spacing", "1.5px"), "133", "Ba (below Cherenkov thr)", "15px")

// scatter panel
var sg = svg.append("g")
var sx = d3.scaleLinear().domain([1, 150.7]).range([110, 1072.5])
var sy = d3.scaleLinear().domain([0, 0.12]).range([1513, 1313])
defs.append("clipPath").attr("id", "scatterClip").append("rect").attr("x", 110).attr("y", 1311).attr("width", 962.5).attr("height", 202)

function drawRows(rowsData, color, r){
	var flat = []
	rowsData.forEach(function(row){
		row.slice(1).forEach(function(v){ flat.push([row[0], v / 1000]) })
	})
	sg.append("g").attr("clip-path", "url(#scatterClip)").selectAll("circle").data(flat).enter().append("circle")
		.attr("cx", d=>sx(d[0])).attr("cy", d=>sy(d[1])).attr("r", r).attr("fill", color)
}

drawRows(baRows, "#f0282e", 1)
drawRows(baRows2, "#f0282e", 1)
var bandArea = d3.area().x(d=>sx(d)).y0((d, i)=>sy(bandLo[i] / 1000)).y1((d, i)=>sy(bandHi[i] / 1000))
sg.append("path").attr("d", bandArea(bandX)).attr("fill", "#2155a7").attr("fill-opacity", 0.93)
drawRows(coRows, "#2155a7", 1.1)
drawRows(coRows2, "#2155a7", 1.2)
drawRows(coRows3, "#2155a7", 1.2)

var sMinorX = d3.range(5, 151, 5)
var sMinorY = d3.range(0, 0.121, 0.01)
drawFrame(sg, sx, sy, sMinorX, timeTicks, sMinorY, ratioTicks, 17, 8.5)

labelAxis(sg.append("g").attr("transform", "translate(0,1513)"),
	d3.axisBottom(sx).tickValues(timeTicks).tickSize(0).tickPadding(9))
labelAxis(sg.append("g").attr("transform", "translate(110,0)"),
	d3.axisLeft(sy).tickValues(ratioTicks).tickSize(0).tickPadding(21).tickFormat(plainNumber))

sg.append("text").attr("x", 1077).attr("y", 1575).attr("text-anchor", "end")
	.style("font-size", "25px").style("letter-spacing", "1.8px").text("digitizer time bin")

// legend
sg.append("circle").attr("cx", 155).attr("cy", 1359).attr("r", 3.8).attr("fill", "#2155a7")
sg.append("circle").attr("cx", 155).attr("cy", 1393).attr("r", 3.8).attr("fill", "#f0282e")
isotopeText(sg.append("text").attr("x", 171).attr("y", 1369).style("font-size", "22px").style("letter-spacing", "0.7px"), "60", "Co (near compton edge)", "14px")
isotopeText(sg.append("text").attr("x", 166).attr("y", 1400).style("font-size", "22px").style("letter-spacing", "0.7px"), "133", "Ba (below Cherenkov thr)", "14px")
</script>
</body>
</html>
